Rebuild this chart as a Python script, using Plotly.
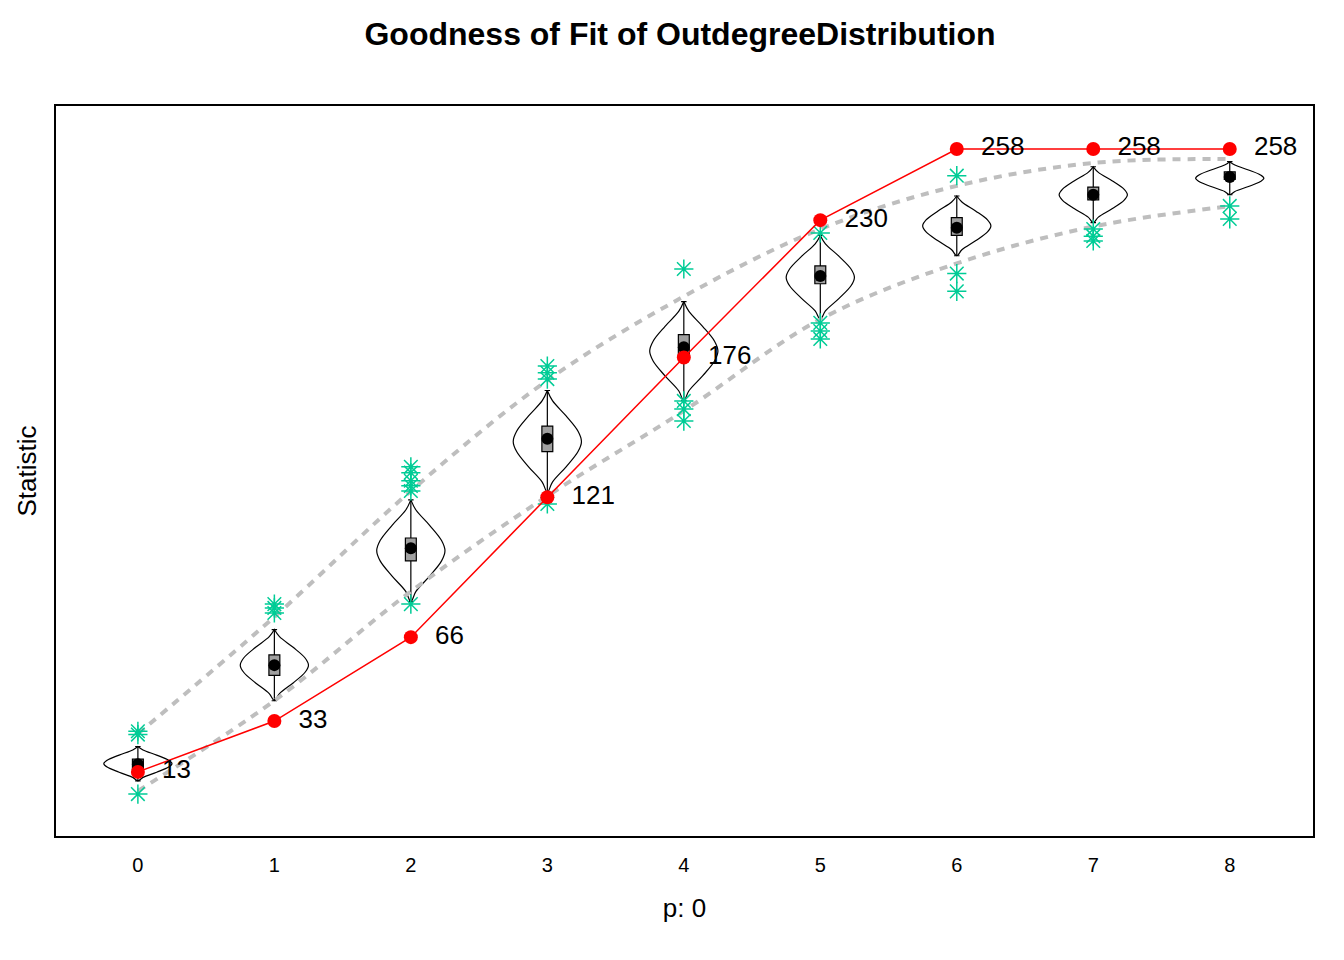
import plotly.graph_objects as go

cats = [0, 1, 2, 3, 4, 5, 6, 7, 8]
observed = [13, 33, 66, 121, 176, 230, 258, 258, 258]
sim_mean = [16, 55, 101, 144, 180, 208, 227, 240, 247]
band_upper = [28, 74, 123.5, 167, 200, 226.5, 243.5, 252.5, 254]
band_lower = [5.5, 41, 84, 121.5, 155, 191, 213, 227.5, 235.5]
violin_top = [23, 69, 120, 163, 198, 224, 239.5, 251, 253]
violin_bottom = [9.5, 41, 80, 123, 159, 191, 216, 229, 240]
box_q1 = [14, 51, 96, 139, 176, 205, 224, 238, 246]
box_q3 = [18, 59, 105, 149, 185, 212, 231, 243, 249]
outliers = [
    [29, 27.7, 4.3],
    [79, 77.5, 75.5],
    [133, 130.7, 127.5, 125.5, 123.5, 79],
    [172.6, 170, 167.5, 118.4],
    [210.8, 158.9, 155.7, 151],
    [225, 189.6, 186.4, 183.3],
    [247.5, 209, 202],
    [226.5, 223.7, 221.8],
    [235.6, 230.5],
]
# violin outline: relative height (0 bottom, 1 top) and relative half-width
profile_h = [0, 0.1, 0.25, 0.4, 0.5, 0.6, 0.75, 0.9, 1]
profile_w = [0, 0.15, 0.55, 0.9, 1, 0.9, 0.55, 0.15, 0]
violin_halfwidth = 0.25

fig = go.Figure()

# violins
for c, lo, hi in zip(cats, violin_bottom, violin_top):
    ys = [lo + h * (hi - lo) for h in profile_h]
    xs = [c + w * violin_halfwidth for w in profile_w] + [c - w * violin_halfwidth for w in profile_w[::-1]]
    fig.add_trace(go.Scatter(x=xs, y=ys + ys[::-1], mode="lines", line=dict(color="black", width=1.2),
                             line_shape="spline", showlegend=False, hoverinfo="skip"))

# percentile bands
for band in (band_upper, band_lower):
    fig.add_trace(go.Scatter(x=cats, y=band, mode="lines",
                             line=dict(color="#BEBEBE", width=4, dash="8px,7px"),
                             line_shape="spline", showlegend=False))

# boxes
fig.add_trace(go.Box(x=cats, q1=box_q1, median=sim_mean, q3=box_q3, lowerfence=violin_bottom,
                     upperfence=violin_top, fillcolor="#A0A0A0", line=dict(color="black", width=1.2),
                     width=0.08, showlegend=False, boxpoints=False))

# outliers
ox = [c for c, vals in zip(cats, outliers) for _ in vals]
oy = [v for vals in outliers for v in vals]
fig.add_trace(go.Scatter(x=ox, y=oy, mode="markers", marker=dict(symbol="asterisk-open", size=16,
                         line=dict(color="black", width=1.5)), showlegend=False))

# means
fig.add_trace(go.Scatter(x=cats, y=sim_mean, mode="markers", marker=dict(color="black", size=12),
                         showlegend=False))

# observed
fig.add_trace(go.Scatter(x=cats, y=observed, mode="lines+markers+text", text=["  " + str(v) for v in observed],
                         textposition="middle right", textfont=dict(size=26, color="black"),
                         line=dict(color="red", width=1.5), marker=dict(color="red", size=14),
                         showlegend=False))

fig.update_layout(
    width=1344, height=960, plot_bgcolor="white", paper_bgcolor="white",
    font=dict(family="Arial, Liberation Sans", color="black"),
    margin=dict(l=48, r=39, t=98, b=132),
    title=dict(text="<b>Goodness of Fit of OutdegreeDistribution</b>", x=0.5, y=0.985,
               xanchor="center", yanchor="top", font=dict(size=32)),
)
fig.update_xaxes(range=[-0.6, 8.61], tickvals=cats, showgrid=False, zeroline=False,
                 showline=True, mirror=True, linecolor="black", linewidth=1.5,
                 ticks="outside", ticklen=10, tickcolor="white", tickfont=dict(size=20),
                 title=dict(text="p: 0", font=dict(size=26), standoff=24))
fig.update_yaxes(range=[-12.2, 274.9], showticklabels=False, showgrid=False, zeroline=False,
                 showline=True, mirror=True, linecolor="black", linewidth=1.5,
                 title=dict(text="Statistic", font=dict(size=26), standoff=10))

fig.write_html("out.html")
